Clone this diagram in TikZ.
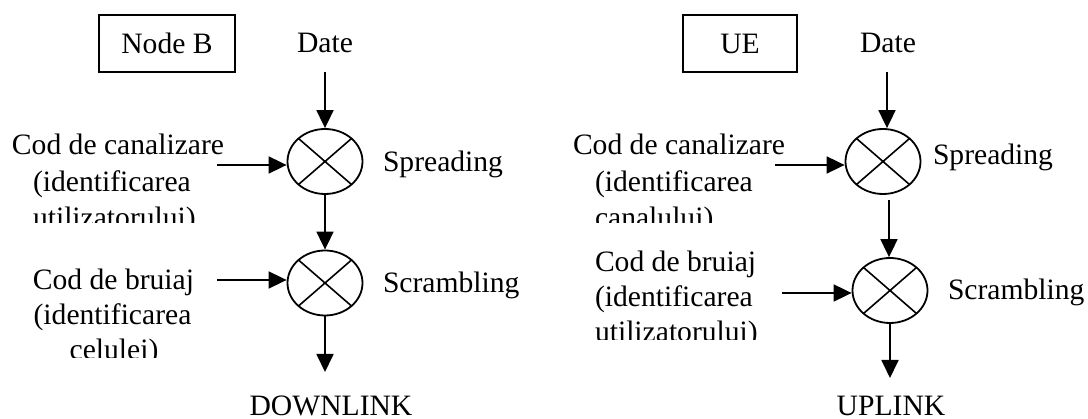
\documentclass[tikz,border=0pt]{standalone}
\usepackage{fontspec}
\setmainfont{Liberation Serif}
\usetikzlibrary{arrows.meta,shapes.geometric}
\begin{document}
\begin{tikzpicture}[x=1pt,y=-1pt,
  lbl/.style={font=\fontsize{29.6}{36}\selectfont, inner sep=0pt, outer sep=0pt},
  tag/.style={lbl, anchor=base west},
  ctag/.style={lbl, anchor=base},
  frame/.style={draw, line width=1.8pt, minimum height=57pt, inner sep=0pt, font=\fontsize{29.6}{36}\selectfont},
  mult/.style={draw, ellipse, line width=1.8pt, minimum width=75pt, minimum height=65pt, inner sep=0pt,
    path picture={\draw[line width=1.6pt]
      ([shift={(-26.5pt,-23pt)}]path picture bounding box.center) -- ([shift={(26.5pt,23pt)}]path picture bounding box.center)
      ([shift={(-26.5pt,23pt)}]path picture bounding box.center) -- ([shift={(26.5pt,-23pt)}]path picture bounding box.center);}},
  arr/.style={line width=1.8pt, -{Triangle[length=18pt,width=17pt]}}
]
\useasboundingbox (0,0) rectangle (1088,419);

% ---------------- left: Node B / DOWNLINK ----------------
\node[frame, minimum width=136pt] (nb) at (167,43.5) {Node B};
\node[ctag] (date1) at (325,53) {Date};
\coordinate (a1) at (325,72);
\node[mult] (m1) at (325,161.5) {};
\node[mult] (m2) at (325,283) {};
\coordinate (o1) at (325,372);
\node[ctag] (down) at (331,415.5) {DOWNLINK};
\node[tag] (spr1) at (383,172) {Spreading};
\node[tag] (scr1) at (383,293) {Scrambling};

\node[tag] (c1a) at (12,155) {Cod de canalizare};
\node[tag] (c1b) at (33,192) {(identificarea};
\begin{scope}
  \clip (0,140) rectangle (560,223);
  \node[tag] (c1c) at (33,228) {utilizatorului)};
\end{scope}
\coordinate (l1) at (217,165);

\node[ctag] (b1a) at (113.5,290) {Cod de bruiaj};
\node[ctag] (b1b) at (112.5,325) {(identificarea};
\begin{scope}
  \clip (0,330) rectangle (560,358);
  \node[ctag] (b1c) at (114,360) {celulei)};
\end{scope}
\coordinate (l2) at (217,280);

\draw[arr] (a1) -- (m1);
\draw[arr] (m1) -- (m2);
\draw[arr] (m2) -- (o1);
\draw[arr] (l1) -- (m1.west |- l1);
\draw[arr] (l2) -- (m2.west |- l2);

% ---------------- right: UE / UPLINK ----------------
\node[frame, minimum width=114pt] (ue) at (740,43.5) {UE};
\node[ctag] (date2) at (888,53) {Date};
\coordinate (a3) at (887,72);
\node[mult] (m3) at (883,161.5) {};
\node[mult] (m4) at (890,290.5) {};
\coordinate (s3) at (889,200);
\coordinate (o2) at (890,378);
\node[ctag] (up) at (891,415.5) {UPLINK};
\node[tag] (spr2) at (933,165) {Spreading};
\node[tag] (scr2) at (948,300) {Scrambling};

\node[tag] (c2a) at (573,155) {Cod de canalizare};
\node[tag] (c2b) at (595,192) {(identificarea};
\begin{scope}
  \clip (560,200) rectangle (840,223);
  \node[tag] (c2c) at (595,228) {canalului)};
\end{scope}
\coordinate (l3) at (775,165);

\node[tag] (b2a) at (595,272) {Cod de bruiaj};
\node[tag] (b2b) at (595,307) {(identificarea};
\begin{scope}
  \clip (560,312) rectangle (840,340);
  \node[tag] (b2c) at (595,342) {utilizatorului)};
\end{scope}
\coordinate (l4) at (782,293);

\draw[arr] (a3) -- (a3 |- m3.north);
\draw[arr] (s3) -- (s3 |- m4.north);
\draw[arr] (m4.south) -- (o2);
\draw[arr] (l3) -- (m3.west |- l3);
\draw[arr] (l4) -- (m4.west |- l4);
\end{tikzpicture}
\end{document}
